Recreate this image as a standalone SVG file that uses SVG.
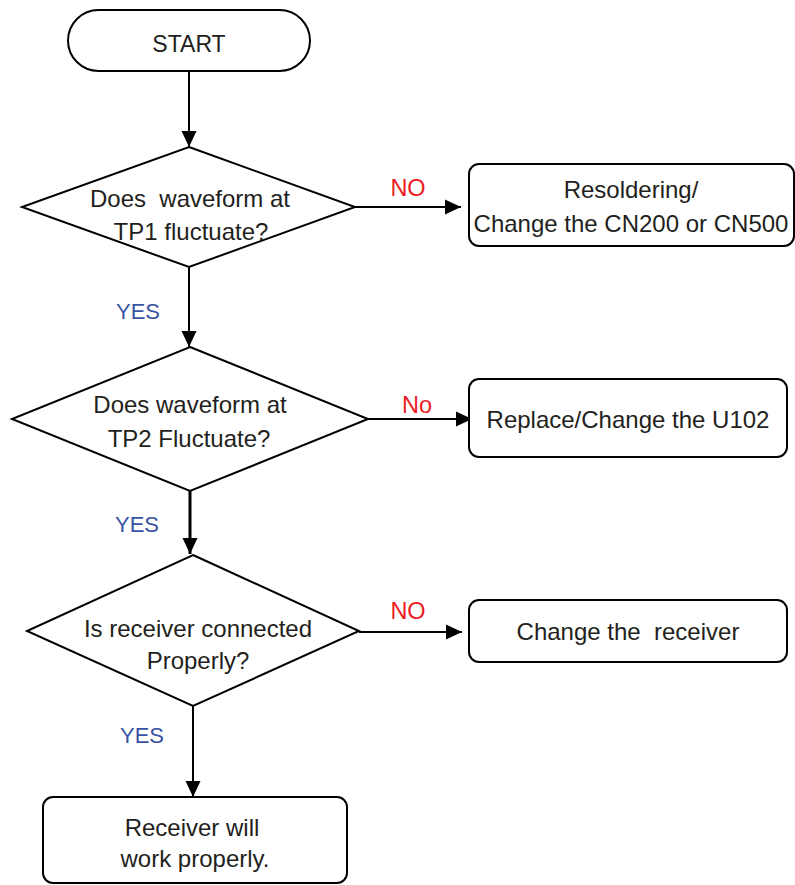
<svg xmlns="http://www.w3.org/2000/svg" width="795" height="885" viewBox="0 0 795 885">
<style>
.s{fill:#fff;stroke:#000;stroke-width:2}
.t{font-family:"Liberation Sans",Arial,sans-serif;font-size:24px;fill:#231f20;text-anchor:middle;white-space:pre}
.no{font-family:"Liberation Sans",Arial,sans-serif;font-size:23.5px;fill:#ed1c24;text-anchor:middle}
.yes{font-family:"Liberation Sans",Arial,sans-serif;font-size:22px;fill:#3953a4;text-anchor:middle}
.c{stroke:#000;stroke-width:2;fill:none;marker-end:url(#ah)}
</style>
<defs>
<marker id="ah" markerUnits="userSpaceOnUse" markerWidth="16" markerHeight="16" viewBox="0 0 16 16" refX="16" refY="8" orient="auto">
<path d="M0,0.5 L16,8 L0,15.5 Z" fill="#000"/>
</marker>
</defs>
<g id="connectors">
<path class="c" d="M189,71 V147"/>
<path class="c" d="M355,207 H461"/>
<path class="c" d="M189,267 V347"/>
<path class="c" d="M368,419 H472"/>
<path class="c" d="M190,491 V554" style="stroke-width:3"/>
<path class="c" d="M359,632 H462"/>
<path class="c" d="M193,706 V797"/>
<text class="no" x="408" y="196">NO</text>
<text class="yes" x="138" y="319">YES</text>
<text class="no" x="417" y="413">No</text>
<text class="yes" x="137" y="532">YES</text>
<text class="no" x="408" y="619">NO</text>
<text class="yes" x="142" y="743">YES</text>
</g>
<g id="start">
<rect class="s" x="68" y="10" width="242" height="61" rx="30.5"/>
<text class="t" x="189" y="52" style="font-size:23px">START</text>
</g>
<g id="q1">
<polygon class="s" points="189,147 355,207 189,267 22,207"/>
<text class="t" x="190" y="207">Does  waveform at</text>
<text class="t" x="191" y="240">TP1 fluctuate?</text>
</g>
<g id="r1">
<rect class="s" x="469" y="164" width="325" height="82" rx="10"/>
<text class="t" x="631" y="198">Resoldering/</text>
<text class="t" x="631" y="232">Change the CN200 or CN500</text>
</g>
<g id="q2">
<polygon class="s" points="190,347 368,419 190,491 12,419"/>
<text class="t" x="190" y="413">Does waveform at</text>
<text class="t" x="189" y="447">TP2 Fluctuate?</text>
</g>
<g id="r2">
<rect class="s" x="469" y="379" width="318" height="78" rx="10"/>
<text class="t" x="628" y="428">Replace/Change the U102</text>
</g>
<g id="q3">
<polygon class="s" points="193,555 359,631 193,706 27,631"/>
<text class="t" x="198" y="637">Is receiver connected</text>
<text class="t" x="198" y="669">Properly?</text>
</g>
<g id="r3">
<rect class="s" x="469" y="600" width="318" height="62" rx="10"/>
<text class="t" x="628" y="640">Change the  receiver</text>
</g>
<g id="end">
<rect class="s" x="43" y="797" width="304" height="86" rx="10"/>
<text class="t" x="192" y="836">Receiver will</text>
<text class="t" x="195" y="867">work properly.</text>
</g>
</svg>
